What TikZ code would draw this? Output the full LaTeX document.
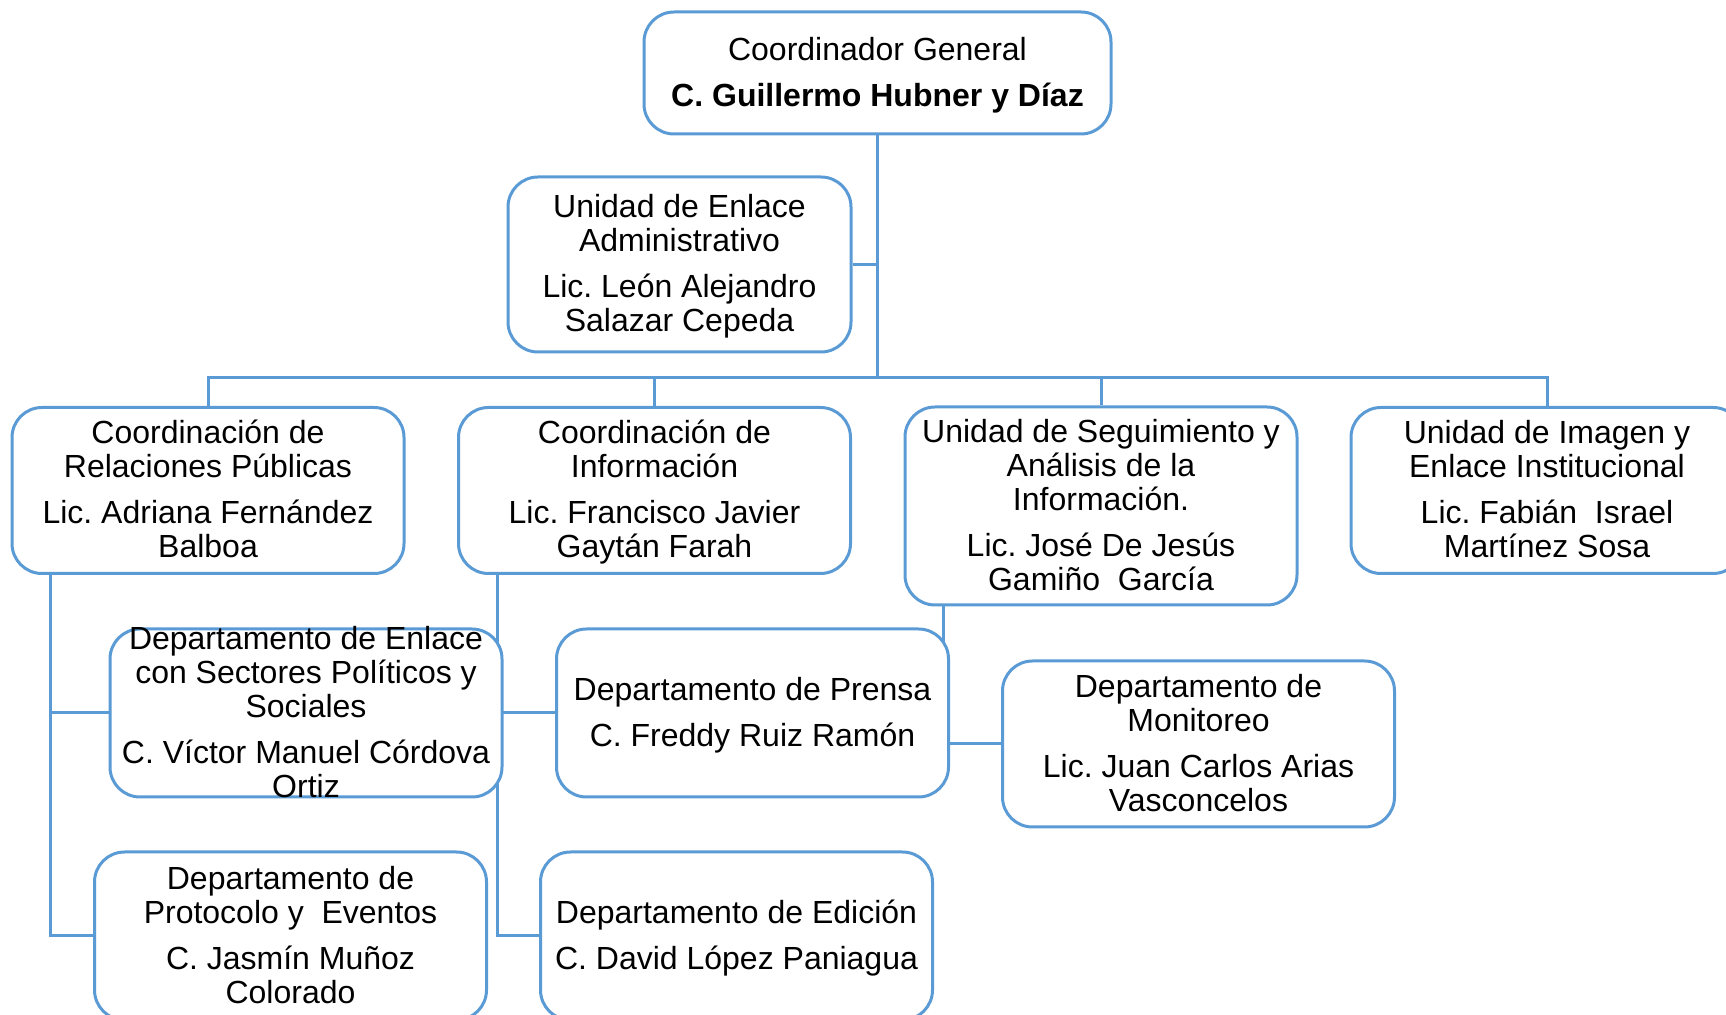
\documentclass[tikz,border=0pt]{standalone}
\usepackage{fontspec}
\setmainfont{Liberation Sans}
\usepackage{xcolor}
\usetikzlibrary{positioning,backgrounds}
\definecolor{azul}{RGB}{91,155,213}
\frenchspacing

\begin{document}
\begin{tikzpicture}[x=0.5pt,y=-0.5pt,
    caja/.style={draw=azul, line width=1.5pt, fill=white, rounded corners=15pt,
      minimum width=196pt, minimum height=83pt, inner sep=0pt},
    texto/.style={align=center, inner sep=0pt, yshift=-1.9pt, font=\fontsize{16}{17}\selectfont,
      execute at begin node=\strut, execute at end node=\strut},
    linea/.style={draw=azul, line width=1.5pt}]
      \useasboundingbox (0,0) rectangle (1726,1015);
      % cajas
      \node[caja, minimum width=233.5pt, minimum height=61pt] (cg) at (877.5,73) {};
      \node[caja, minimum width=171.5pt, minimum height=87.5pt] (uea) at (679.5,264.5) {};
      \node[caja] (crp) at (208,490.5) {};
      \node[caja] (ci) at (654.5,490.5) {};
      \node[caja, minimum height=99pt] (usa) at (1101,506) {};
      \node[caja] (uie) at (1547,490.5) {};
      \node[caja, minimum height=84pt] (dep) at (306,713) {};
      \node[caja, minimum height=84pt] (dp) at (752.5,713) {};
      \node[caja] (dm) at (1198.5,744) {};
      \node[caja, minimum height=84pt] (dpe) at (290.5,936) {};
      \node[caja, minimum height=84pt] (ded) at (736.5,936) {};
      % textos
      \node[texto] (cgt) at (cg) {Coordinador General\\[6pt]\textbf{C. Guillermo Hubner y Díaz}};
      \node[texto] (ueat) at (uea) {Unidad de Enlace\\Administrativo\\[6pt]Lic. León Alejandro\\Salazar Cepeda};
      \node[texto] (crpt) at (crp) {Coordinación de\\Relaciones Públicas\\[6pt]Lic. Adriana Fernández\\Balboa};
      \node[texto] (cit) at (ci) {Coordinación de\\Información\\[6pt]Lic. Francisco Javier\\Gaytán Farah};
      \node[texto] (usat) at (usa) {Unidad de Seguimiento y\\Análisis de la\\Información.\\[6pt]Lic. José De Jesús\\Gamiño\ \ García};
      \node[texto] (uiet) at (uie) {Unidad de Imagen y\\Enlace Institucional\\[6pt]Lic. Fabián\ \ Israel\\Martínez Sosa};
      \node[texto] (dept) at (dep) {Departamento de Enlace\\con Sectores Políticos y\\Sociales\\[6pt]C. Víctor Manuel Córdova\\Ortiz};
      \node[texto] (dpt) at (dp) {Departamento de Prensa\\[6pt]C. Freddy Ruiz Ramón};
      \node[texto] (dmt) at (dm) {Departamento de\\Monitoreo\\[6pt]Lic. Juan Carlos Arias\\Vasconcelos};
      \node[texto] (dpet) at (dpe) {Departamento de\\Protocolo y\ \ Eventos\\[6pt]C. Jasmín Muñoz\\Colorado};
      \node[texto] (dedt) at (ded) {Departamento de Edición\\[6pt]C. David López Paniagua};
      % conectores
      \begin{scope}[on background layer]
      \foreach \n in {crp,ci,usa,uie}
        \draw[linea] (cg.south) |- ([yshift=14pt]\n.north) -- (\n.north);
      \draw[linea] (uea.east) -- (uea.east -| cg.south);
      \draw[linea] ([xshift=20pt]crp.south west) |- (dep.west);
      \draw[linea] ([xshift=20pt]crp.south west) |- (dpe.west);
      \draw[linea] ([xshift=20pt]ci.south west) |- (dp.west);
      \draw[linea] ([xshift=20pt]ci.south west) |- (ded.west);
      \draw[linea] ([xshift=20pt]usa.south west) |- (dm.west);
      \end{scope}
\end{tikzpicture}
\end{document}
